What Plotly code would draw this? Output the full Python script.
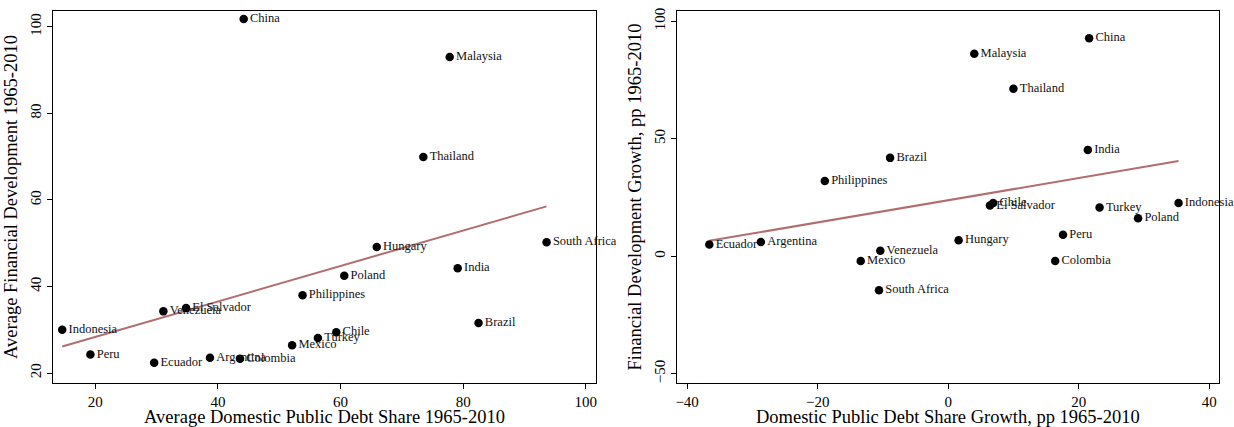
import numpy as np
import plotly.graph_objects as go

# Left panel: average levels 1965-2010
left_countries = ["China", "Malaysia", "Thailand", "Hungary", "South Africa", "India", "Poland",
                  "Philippines", "El Salvador", "Venezuela", "Indonesia", "Brazil", "Chile",
                  "Turkey", "Mexico", "Peru", "Argentina", "Colombia", "Ecuador"]
left_debt_share = [44.2, 77.8, 73.5, 65.9, 93.6, 79.1, 60.6, 53.8, 34.8, 31.1, 14.6, 82.5, 59.3,
                   56.3, 52.1, 19.2, 38.7, 43.6, 29.6]
left_fin_dev = [101.8, 93.0, 69.9, 49.1, 50.2, 44.2, 42.5, 38.0, 35.0, 34.25, 30.0, 31.55, 29.4,
                28.1, 26.4, 24.3, 23.55, 23.3, 22.4]

# Right panel: growth, pp 1965-2010
right_countries = ["Ecuador", "Argentina", "Venezuela", "Mexico", "South Africa", "Hungary", "Peru",
                   "Colombia", "Turkey", "Poland", "Indonesia", "El Salvador", "Chile", "India",
                   "Brazil", "Philippines", "Thailand", "Malaysia", "China"]
right_debt_growth = [-36.6, -28.7, -10.4, -13.4, -10.6, 1.6, 17.6, 16.4, 23.2, 29.1, 35.3, 6.4, 6.9,
                     21.4, -8.9, -18.9, 10.0, 4.0, 21.6]
right_fin_growth = [5.0, 6.1, 2.4, -2.0, -14.4, 6.8, 9.2, -2.0, 20.8, 16.2, 22.7, 21.6, 22.7, 45.3,
                    41.9, 32.1, 71.3, 86.2, 92.8]

left_xticks = [20, 40, 60, 80, 100]
left_yticks = [20, 40, 60, 80, 100]
right_xticks = [-40, -20, 0, 20, 40]
right_yticks = [-50, 0, 50, 100]

FONT = "Liberation Serif, Times New Roman, serif"
LINE_COLOR = "#B26E6E"


def fit_line(x, y):
    x = np.asarray(x, float)
    y = np.asarray(y, float)
    b, a = np.polyfit(x, y, 1)
    xs = np.array([x.min(), x.max()])
    return xs, a + b * xs


fig = go.Figure()

for xs_data, ys_data, names, xa, ya in [
    (left_debt_share, left_fin_dev, left_countries, "x", "y"),
    (right_debt_growth, right_fin_growth, right_countries, "x2", "y2"),
]:
    fx, fy = fit_line(xs_data, ys_data)
    fig.add_trace(go.Scatter(x=fx, y=fy, mode="lines", line=dict(color=LINE_COLOR, width=2),
                             xaxis=xa, yaxis=ya, showlegend=False, hoverinfo="skip"))
    fig.add_trace(go.Scatter(x=xs_data, y=ys_data, mode="markers+text", text=names,
                             textposition="middle right",
                             textfont=dict(family=FONT, size=12.5, color="#111111"),
                             marker=dict(color="black", size=8.5),
                             cliponaxis=False, xaxis=xa, yaxis=ya, showlegend=False))

axis_common = dict(showline=True, linecolor="black", linewidth=1, mirror=True, ticks="outside",
                   ticklen=5, tickcolor="black", showgrid=False, zeroline=False, automargin=False,
                   tickfont=dict(family=FONT, size=15, color="black"))

TITLE_FONT = dict(family=FONT, size=18.5, color="black")

fig.update_layout(
    width=1234, height=427,
    margin=dict(l=53, r=15, t=10.5, b=44, autoexpand=False),
    plot_bgcolor="white", paper_bgcolor="white",
    font=dict(family=FONT, color="black"),
    xaxis=dict(domain=[0, 0.4657], range=[13.1, 101.66], tickvals=left_xticks,
               title=dict(text="Average Domestic Public Debt Share 1965-2010",
                          font=TITLE_FONT, standoff=0), **axis_common),
    yaxis=dict(range=[17.7, 103.65], tickvals=left_yticks, tickangle=-90,
               title=dict(text="Average Financial Development 1965-2010",
                          font=TITLE_FONT, standoff=5), **axis_common),
    xaxis2=dict(domain=[0.5349, 1], range=[-41.6, 41.5], tickvals=right_xticks, anchor="y2",
                title=dict(text="Domestic Public Debt Share Growth, pp 1965-2010",
                           font=TITLE_FONT, standoff=0), **axis_common),
    yaxis2=dict(range=[-53.9, 104.4], tickvals=right_yticks, tickangle=-90, anchor="x2",
                title=dict(text="Financial Development Growth, pp 1965-2010",
                           font=TITLE_FONT, standoff=5), **axis_common),
)

fig.write_html("out.html", config={"displayModeBar": False},
               post_script="document.body.style.margin='0px';document.body.style.overflow='hidden';")
